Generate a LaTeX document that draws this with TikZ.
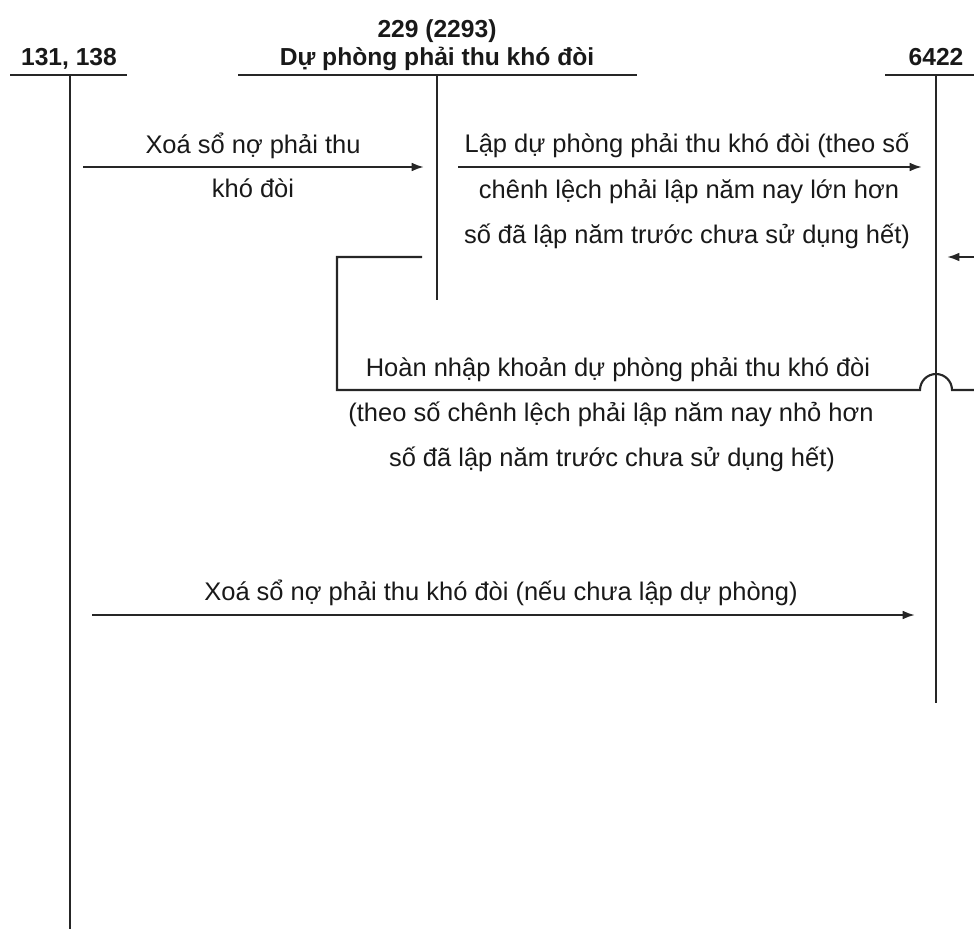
\documentclass[tikz,border=0pt]{standalone}
\usepackage{fontspec}
\setmainfont{Liberation Sans}
\usetikzlibrary{positioning, arrows.meta}

\begin{document}
\begin{tikzpicture}[x=0.02cm,y=-0.02cm,every node/.style={inner sep=0pt,outer sep=0pt,anchor=base,text=black!90},font=\fontsize{14.5}{17}\selectfont,
    tline/.style={line width=1.4pt,draw=black!85},
    conn/.style={line width=1.2pt,draw=black!85},
    flow/.style={line width=1.2pt,draw=black!85,-{Latex[length=7pt,width=5pt]}},
    title/.style={font=\fontsize{14}{17}\selectfont\bfseries}]
        \useasboundingbox (0,0) rectangle (974,929);
        % T accounts: top bar + vertical line
        \foreach \acc/\xl/\xc/\xr/\yb in {tk131/10/70/127/929, tk229/238/437/637/300, tk6422/885/936/974/703} {
            \coordinate (\acc-l) at (\xl,75);
            \coordinate (\acc-r) at (\xr,75);
            \coordinate (\acc-t) at (\xc,75);
            \coordinate (\acc-b) at (\xc,\yb);
            \draw[tline] (\acc-l) -- (\acc-r);
            \draw[tline] (\acc-t) -- (\acc-b);
        }
        % account titles
        \node[title] (h131) at (69,66) {131, 138};
        \node[title] (h229a) at (437,38) {229 (2293)};
        \node[title] (h229b) at (437,66) {Dự phòng phải thu khó đòi};
        \node[title] (h6422) at (936,66) {6422};
        % 131 -> 229
        \coordinate (a1-s) at (83,167);
        \coordinate (a1-e) at (424,167);
        \draw[flow] (a1-s) -- (a1-e);
        \node (a1-t1) at (253,154) {Xoá sổ nợ phải thu};
        \node (a1-t2) at (253,198) {khó đòi};
        % 229 -> 6422
        \coordinate (a2-s) at (458,167);
        \coordinate (a2-e) at (922,167);
        \draw[flow] (a2-s) -- (a2-e);
        \node (a2-t1) at (687,153) {Lập dự phòng phải thu khó đòi (theo số};
        \node (a2-t2) at (689,199) {chênh lệch phải lập năm nay lớn hơn};
        \node (a2-t3) at (687,244) {số đã lập năm trước chưa sử dụng hết)};
        % arrow coming in from the right
        \coordinate (a3-s) at (974,257);
        \coordinate (a3-e) at (947,257);
        \draw[flow] (a3-s) -- (a3-e);
        % reversal, hops over 6422
        \coordinate (hn-in) at (974,390);
        \coordinate (hn-hop) at (952,390);
        \coordinate (hn-bl) at (337,390);
        \coordinate (hn-tl) at (337,257);
        \coordinate (hn-end) at (422,257);
        \draw[conn] (hn-in) -- (hn-hop) arc[start angle=0,end angle=180,radius=0.32cm] -- (hn-bl) -- (hn-tl) -- (hn-end);
        \node (hn-t1) at (618,377) {Hoàn nhập khoản dự phòng phải thu khó đòi};
        \node (hn-t2) at (611,421) {(theo số chênh lệch phải lập năm nay nhỏ hơn};
        \node (hn-t3) at (612,466) {số đã lập năm trước chưa sử dụng hết)};
        % 131 -> 6422
        \coordinate (a4-s) at (92,615);
        \coordinate (a4-e) at (915,615);
        \draw[flow] (a4-s) -- (a4-e);
        \node (a4-t) at (501,600) {Xoá sổ nợ phải thu khó đòi (nếu chưa lập dự phòng)};
\end{tikzpicture}
\end{document}
